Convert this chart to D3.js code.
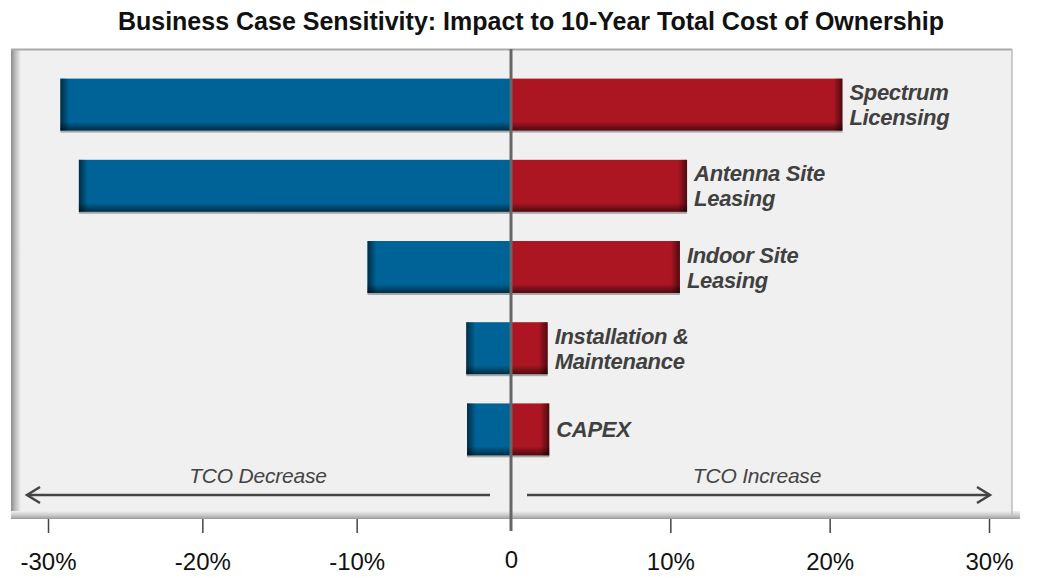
<!DOCTYPE html>
<html>
<head>
<meta charset="UTF-8">
<style>
    body { margin: 0; background: #fff; }
    svg { display: block; }
    text { font-family: "Liberation Sans", Arial, sans-serif; }
</style>
</head>
<body>
<svg width="1039" height="578"></svg>
<script src="https://d3js.org/d3.v7.min.js"></script>
<script>

// data (percent change of 10-year TCO)
const categories = ["Spectrum Licensing", "Antenna Site Leasing", "Indoor Site Leasing", "Installation & Maintenance", "CAPEX"];
const labelLines = [["Spectrum", "Licensing"], ["Antenna Site", "Leasing"], ["Indoor Site", "Leasing"], ["Installation &", "Maintenance"], ["CAPEX"]];
const decrease = [-29.2, -28.0, -9.3, -2.9, -2.85];
const increase = [20.8, 11.05, 10.6, 2.3, 2.4];
const tickValues = [-30, -20, -10, 0, 10, 20, 30];

let width = 1039
let height = 578
let svg = d3.select("svg")

let blue = "#006397"
let red = "#ab1622"

// the axis of the original is slightly uneven, so left and right get their own slope
let x = d3.scaleLinear().domain([-30, 0, 30]).range([48, 511, 989])
let y = d3.scaleBand().domain(categories).range([64, 470]).paddingInner(0.36).paddingOuter(0.18)

let defs = svg.append("defs")

function gradient(id, x1, y1, x2, y2, stops) {
    let g = defs.append("linearGradient").attr("id", id)
        .attr("x1", x1).attr("y1", y1).attr("x2", x2).attr("y2", y2)
    stops.forEach(s => g.append("stop").attr("offset", s[0]).attr("stop-color", s[1]).attr("stop-opacity", s[2]))
}
gradient("shadeBottom", 0, 0, 0, 1, [[0, "#000", 0], [1, "#000", 0.55]])
gradient("shadeLeft", 0, 0, 1, 0, [[0, "#000", 0.55], [1, "#000", 0]])
gradient("shadeRight", 0, 0, 1, 0, [[0, "#000", 0], [1, "#000", 0.55]])
gradient("frameLeft", 0, 0, 1, 0, [[0, "#8c8c8c", 1], [0.35, "#b4b4b4", 1], [1, "#f0f0f0", 1]])
gradient("frameBottom", 0, 0, 0, 1, [[0, "#f0f0f0", 1], [0.6, "#c4c4c4", 1], [1, "#9a9a9a", 1]])

// title
svg.append("text")
    .attr("x", 531).attr("y", 30)
    .attr("text-anchor", "middle")
    .style("font-size", "25px").style("font-weight", "bold").style("fill", "#111")
    .text("Business Case Sensitivity: Impact to 10-Year Total Cost of Ownership")

// plot panel
let px0 = 11, px1 = 1012, py0 = 49, py1 = 519
svg.append("rect").attr("x", px0).attr("y", py0).attr("width", px1 - px0).attr("height", py1 - py0).attr("fill", "#f0f0f0")
svg.append("rect").attr("x", px0).attr("y", py0).attr("width", 10).attr("height", py1 - py0).attr("fill", "url(#frameLeft)")
svg.append("rect").attr("x", px0).attr("y", py1 - 8).attr("width", px1 - px0 + 8).attr("height", 8).attr("fill", "url(#frameBottom)")
svg.append("line").attr("x1", px0).attr("x2", px1).attr("y1", py0 + 0.5).attr("y2", py0 + 0.5).attr("stroke", "#aaa").attr("stroke-width", 2)
svg.append("line").attr("x1", px1).attr("x2", px1).attr("y1", py0).attr("y2", py1 - 4).attr("stroke", "#bdbdbd").attr("stroke-width", 1.5)

// axis
let axis = svg.append("g")
    .attr("transform", "translate(0," + py1 + ")")
    .call(d3.axisBottom(x).tickValues(tickValues).tickSize(14).tickPadding(20)
        .tickFormat(d => d === 0 ? "0" : d + "%"))
axis.select(".domain").remove()
axis.selectAll(".tick line").attr("stroke", "#444").attr("stroke-width", 1.5)
axis.selectAll(".tick text").style("font-size", "24px").style("fill", "#111").style("font-family", "Liberation Sans, Arial, sans-serif")
axis.selectAll(".tick").filter(d => d === 0).select("line").remove()
axis.selectAll(".tick").filter(d => d === 0).select("text").attr("dy", "0.62em")

// bars
let rows = svg.append("g").selectAll("g")
    .data(categories.map((c, i) => ({ name: c, lines: labelLines[i], lo: decrease[i], hi: increase[i] })))
    .enter().append("g")

function bar(sel, side) {
    let x0 = d => side === "lo" ? x(d.lo) : x(0)
    let w = d => side === "lo" ? x(0) - x(d.lo) : x(d.hi) - x(0)
    sel.append("rect")
        .attr("x", x0).attr("y", d => y(d.name) + y.bandwidth()).attr("width", w).attr("height", 2)
        .attr("fill", "#a8a8a8")
    sel.append("rect")
        .attr("x", x0).attr("y", d => y(d.name)).attr("width", w).attr("height", y.bandwidth())
        .attr("fill", side === "lo" ? blue : red)
    sel.append("rect")
        .attr("x", x0).attr("y", d => y(d.name) + y.bandwidth() - 9).attr("width", w).attr("height", 9)
        .attr("fill", "url(#shadeBottom)")
    sel.append("rect")
        .attr("x", d => side === "lo" ? x(d.lo) : x(d.hi) - 9).attr("y", d => y(d.name))
        .attr("width", 9).attr("height", y.bandwidth())
        .attr("fill", side === "lo" ? "url(#shadeLeft)" : "url(#shadeRight)")
}
bar(rows, "lo")
bar(rows, "hi")

// category labels next to the red bars
rows.append("text")
    .attr("x", d => x(d.hi) + 7)
    .attr("y", d => y(d.name) + y.bandwidth() / 2)
    .style("font-size", "22px").style("font-weight", "bold").style("font-style", "italic").style("fill", "#404040")
    .style("letter-spacing", "-0.3px")
    .selectAll("tspan")
    .data(d => d.lines.map((t, i) => ({ t: t, i: i, n: d.lines.length, x: x(d.hi) + 7 })))
    .enter().append("tspan")
    .attr("x", d => d.x)
    .attr("dy", d => d.i === 0 ? ((-(d.n - 1) / 2) * 25 + 8) : 25)
    .text(d => d.t)

// zero line
svg.append("line").attr("x1", x(0)).attr("x2", x(0)).attr("y1", py0).attr("y2", 531)
    .attr("stroke", "#666").attr("stroke-width", 3)

// direction arrows
let arrowY = 495
let ann = svg.append("g").attr("stroke", "#444").attr("stroke-width", 2.5).attr("fill", "none")
ann.append("line").attr("x1", 27).attr("x2", 490).attr("y1", arrowY).attr("y2", arrowY)
ann.append("path").attr("d", "M" + (27 + 13) + "," + (arrowY - 8) + "L27," + arrowY + "L" + (27 + 13) + "," + (arrowY + 8))
ann.append("line").attr("x1", 527).attr("x2", 990).attr("y1", arrowY).attr("y2", arrowY)
ann.append("path").attr("d", "M" + (990 - 13) + "," + (arrowY - 8) + "L990," + arrowY + "L" + (990 - 13) + "," + (arrowY + 8))

svg.append("text").attr("x", 258).attr("y", 483).attr("text-anchor", "middle")
    .style("font-size", "21px").style("font-style", "italic").style("fill", "#444").style("letter-spacing", "-0.2px")
    .text("TCO Decrease")
svg.append("text").attr("x", 757).attr("y", 483).attr("text-anchor", "middle")
    .style("font-size", "21px").style("font-style", "italic").style("fill", "#444").style("letter-spacing", "-0.2px")
    .text("TCO Increase")

</script>
</body>
</html>
